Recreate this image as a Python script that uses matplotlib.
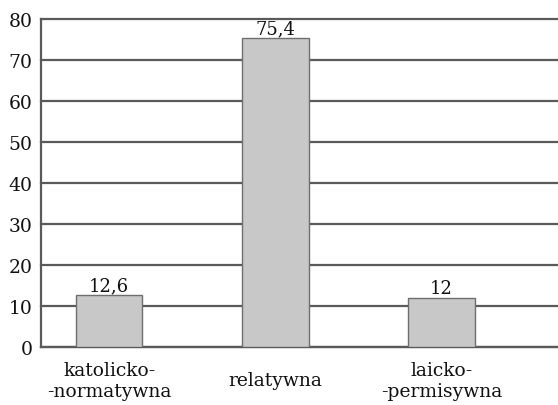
import numpy as np
import matplotlib.pyplot as plt

categories = ['katolicko-\n-normatywna', 'relatywna', 'laicko-\n-permisywna']
values = [12.6, 75.4, 12.0]
value_labels = ['12,6', '75,4', '12']
yticks = [0, 10, 20, 30, 40, 50, 60, 70, 80]

plt.rcParams['font.family'] = ['DejaVu Serif']

fig = plt.figure(figsize=(5.58, 4.06), dpi=100)
ax = fig.add_axes([41 / 558, 58 / 406, 1 - 41 / 558, 328 / 406])

x = np.arange(len(categories))
ax.set_axisbelow(True)
ax.grid(axis='y', color='#5a5a5a', lw=1.6, clip_on=False)
ax.bar(x, values, width=0.4, color='#c8c8c8', edgecolor='#6e6e6e', lw=1.0, zorder=3)
for xi, v, lab in zip(x, values, value_labels):
    ax.text(xi, v + 0.2, lab, ha='center', va='bottom', fontsize=13, color='#111111')

ax.set_xlim(-0.41, 2.7)
ax.set_ylim(0, 80)
ax.set_yticks(yticks)
ax.set_xticks(x)
ax.set_xticklabels(categories, fontsize=13.5, linespacing=1.25)
for t in ax.get_xticklabels():
    t.set_verticalalignment('center')
ax.tick_params(axis='x', length=0, pad=24, colors='#111111')
ax.tick_params(axis='y', length=0, pad=6, labelsize=13.5, colors='#111111')
for s in ('top', 'right'):
    ax.spines[s].set_visible(False)
for s in ('left', 'bottom'):
    ax.spines[s].set_color('#5a5a5a')
    ax.spines[s].set_linewidth(1.6)

fig.savefig('out.png', dpi=100)
